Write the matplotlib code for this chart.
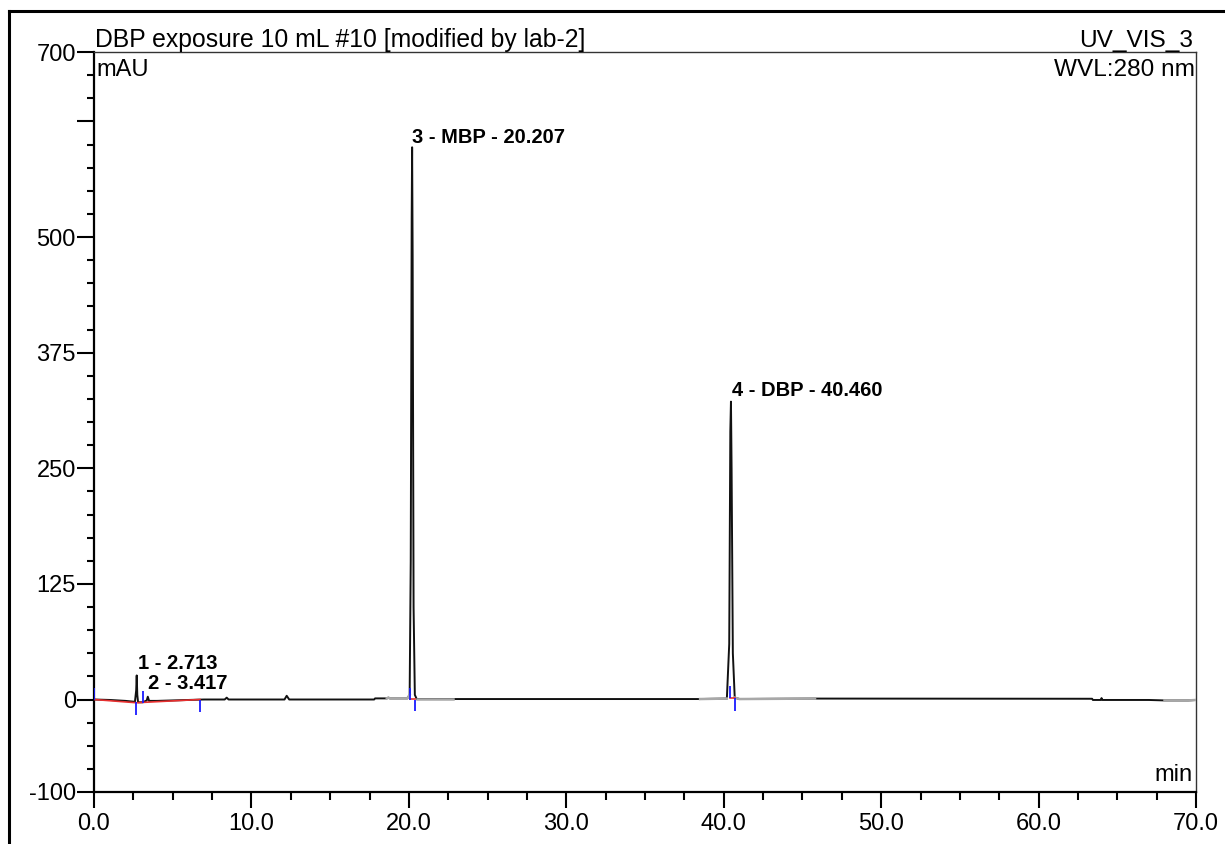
import matplotlib
matplotlib.use("Agg")
import matplotlib.pyplot as plt
from matplotlib.lines import Line2D
from matplotlib.ticker import MultipleLocator, FixedLocator, FixedFormatter
import numpy as np

plt.rcParams['font.family'] = ['Liberation Sans', 'DejaVu Sans']

# chromatogram trace (min, mAU)
trace_t = [0.0, 1.0, 2.0, 2.6, 2.68, 2.713, 2.75, 2.8, 3.1, 3.35, 3.417, 3.5, 4.0, 5.0,
           6.0, 7.0, 8.3, 8.43, 8.55, 12.1, 12.24, 12.4, 17.8, 17.85, 18.6, 18.7, 18.8,
           19.9, 20.05, 20.12, 20.18, 20.207, 20.24, 20.3, 20.38, 20.5, 22.8, 38.5, 40.2,
           40.35, 40.42, 40.46, 40.5, 40.58, 40.7, 41.0, 45.8, 63.4, 63.45, 63.95, 64.0,
           64.05, 67.0, 68.0, 69.5, 70.0]
trace_y = [0.0, -0.5, -1.5, -2.5, 10.0, 26.0, 5.0, -3.0, -3.0, -1.0, 3.0, -1.5, -1.5, -1.0,
           -0.5, 0.0, 0.0, 2.0, 0.0, 0.0, 4.0, 0.0, 0.0, 1.2, 1.2, 2.0, 1.2,
           1.2, 5.0, 150.0, 520.0, 597.0, 480.0, 100.0, 5.0, 0.5, 0.5, 0.5, 1.0,
           60.0, 290.0, 322.0, 250.0, 50.0, 2.0, 0.5, 1.0, 0.8, -0.5, -0.5, 1.5,
           -0.5, -0.5, -1.0, -1.0, -0.5]

# parts of the trace that the reference draws in grey
grey_windows = [(17.9, 20.05), (20.4, 22.8), (38.5, 40.3), (40.7, 46.0), (67.5, 70.0)]

# integration baselines (red) and peak delimiter marks (blue)
base_t = [[0.0, 2.68, 6.73], [20.07, 20.37], [40.37, 40.72]]
base_y = [[0.0, -3.5, 0.0], [0.5, 0.5], [1.3, 1.3]]
mark_t = [0.0, 2.68, 3.1, 6.73, 20.07, 20.37, 40.37, 40.72]
mark_lo = [0.0, -17.0, -3.5, -13.0, 0.0, -12.0, 1.3, -12.0]
mark_hi = [12.5, -3.0, 9.5, 0.0, 12.0, 0.0, 14.5, 1.3]

# peak labels
peak_labels = ["1 - 2.713", "2 - 3.417", "3 - MBP - 20.207", "4 - DBP - 40.460"]
label_t = [2.8, 3.43, 20.2, 40.53]
label_y = [39.0, 17.0, 608.0, 334.0]

x_major = [0, 10, 20, 30, 40, 50, 60, 70]
y_major = [-100, 0, 125, 250, 375, 500, 625, 700]
y_labels = ["-100", "0", "125", "250", "375", "500", "", "700"]

W, H = 1225, 844
fig = plt.figure(figsize=(W / 100, H / 100), dpi=100)
ax = fig.add_axes([94 / W, 52 / H, 1102 / W, 740 / H])

t = np.array(trace_t)
y = np.array(trace_y)
ax.plot(t, y, color='#111111', lw=1.4, zorder=3)
for a, b in grey_windows:
    m = (t >= a) & (t <= b)
    ax.plot(t[m], y[m], color='#a8a8a8', lw=1.8, zorder=4)

for bt, by in zip(base_t, base_y):
    ax.plot(bt, by, color='#e83030', lw=1.2, zorder=5)
ax.vlines(mark_t, mark_lo, mark_hi, color='#1a1aff', lw=1.3, zorder=6)

for s, lt, ly in zip(peak_labels, label_t, label_y):
    ax.text(lt, ly, s, fontsize=14.5, fontweight='bold', ha='left', va='center')

ax.set_xlim(0, 70)
ax.set_ylim(-100, 700)
ax.xaxis.set_major_locator(FixedLocator(x_major))
ax.set_xticklabels(["%.1f" % v for v in x_major])
ax.xaxis.set_minor_locator(MultipleLocator(2.5))
ax.yaxis.set_major_locator(FixedLocator(y_major))
ax.yaxis.set_major_formatter(FixedFormatter(y_labels))
ax.yaxis.set_minor_locator(MultipleLocator(25))

ax.tick_params(axis='x', which='major', direction='out', length=11.5, width=1.5,
               labelsize=17, pad=3.5)
ax.tick_params(axis='x', which='minor', direction='out', length=6, width=1.5)
ax.tick_params(axis='y', which='major', direction='out', length=12, width=1.5,
               labelsize=17, pad=1)
ax.tick_params(axis='y', which='minor', direction='out', length=5, width=1.5)

for side in ['left', 'bottom']:
    ax.spines[side].set_linewidth(1.6)
for side in ['top', 'right']:
    ax.spines[side].set_linewidth(1.0)
ax.spines['top'].set_color('#333333')
ax.spines['right'].set_color('#333333')

# header texts
fig.text(95 / W, 1 - 47 / H, "DBP exposure 10 mL #10 [modified by lab-2]",
         fontsize=17.8, ha='left', va='baseline')
fig.text(1193 / W, 1 - 47 / H, "UV_VIS_3", fontsize=17.6, ha='right', va='baseline')
ax.text(0.002, 0.99, "mAU", transform=ax.transAxes, fontsize=17, ha='left', va='top')
ax.text(0.999, 0.99, "WVL:280 nm", transform=ax.transAxes, fontsize=17.6, ha='right', va='top')
ax.text(0.997, 0.008, "min", transform=ax.transAxes, fontsize=17, ha='right', va='bottom')

# outer frame (top and left edges visible)
fig.add_artist(Line2D([9 / W, 1], [1 - 11 / H, 1 - 11 / H], color='black', lw=2.2,
                      transform=fig.transFigure))
fig.add_artist(Line2D([9 / W, 9 / W], [0, 1 - 11 / H], color='black', lw=2.2,
                      transform=fig.transFigure))

fig.savefig("out.png", dpi=100)
